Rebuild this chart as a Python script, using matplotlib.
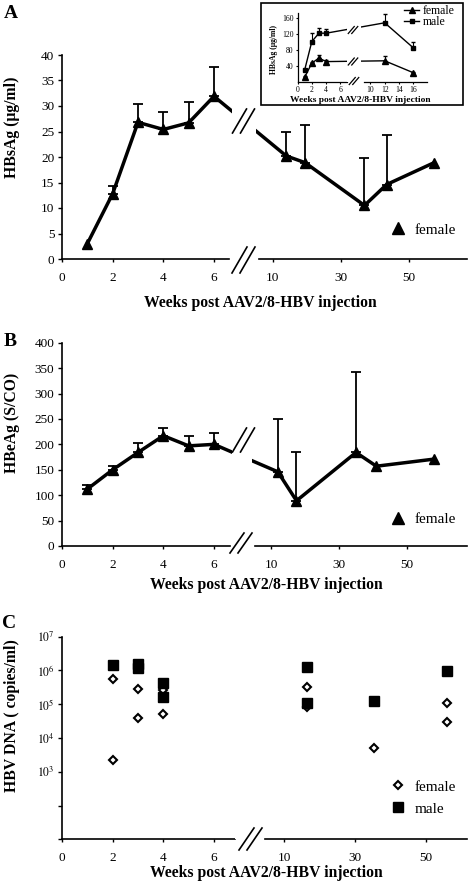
import numpy as np
import matplotlib
matplotlib.use("Agg")
import matplotlib.pyplot as plt
from matplotlib.lines import Line2D
from matplotlib.patches import Rectangle
from matplotlib.ticker import NullLocator

plt.rcParams['font.family'] = ['Liberation Serif', 'DejaVu Serif']
plt.rcParams['mathtext.fontset'] = 'stix'

W, H = 470, 886

# ---- data -------------------------------------------------------------
# A: HBsAg, female mice (mean, upper error)
weeks_a = np.array([1, 2, 3, 4, 5, 6, 14, 19.5, 37, 43.5, 57.5])
hbsag = np.array([3.0, 12.8, 26.8, 25.4, 26.7, 31.9, 20.2, 18.9, 10.5, 14.6, 18.9])
hbsag_err = np.array([0, 1.5, 3.6, 3.4, 4.0, 5.8, 4.8, 7.4, 9.3, 9.8, 0])

# A inset: HBsAg female vs male
weeks_in = np.array([1, 2, 3, 4, 12, 16])
in_female = np.array([12, 47, 60, 51, 53, 23])
in_female_err = np.array([4, 3, 8, 4, 11, 2])
in_male = np.array([30, 101, 122, 122, 148, 85])
in_male_err = np.array([3, 22, 13, 10, 22, 14])

# B: HBeAg, female mice
weeks_b = np.array([1, 2, 3, 4, 5, 6, 12, 17.5, 35, 41, 58])
hbeag = np.array([112, 150, 184, 217, 197, 200, 146, 89, 184, 157, 171])
hbeag_err = np.array([8, 8, 18, 15, 20, 22, 104, 95, 159, 0, 0])

# C: HBV DNA, individual mice
weeks_c_f = np.array([2, 2, 3, 3, 4, 4, 16.5, 16.5, 35.5, 56, 56])
dna_f = np.array([5.5e5, 2.3e3, 2.9e5, 3.8e4, 2.6e5, 5.0e4, 3.2e5, 8.5e4, 5.0e3, 1.1e5, 2.9e4])
weeks_c_m = np.array([2, 3, 3, 4, 4, 16.5, 16.5, 35.5, 56])
dna_m = np.array([1.5e6, 1.6e6, 1.15e6, 4.4e5, 1.6e5, 1.25e6, 1.1e5, 1.25e5, 9.8e5])

xticks_main = [0, 2, 4, 6, 10, 30, 50]
xticks_inset = [0, 2, 4, 6, 10, 12, 14, 16]
xlabel = 'Weeks post AAV2/8-HBV injection'

fig = plt.figure(figsize=(W / 100, H / 100), dpi=100)


def px_axes(x0, y0, x1, y1):
    return fig.add_axes([x0 / W, 1 - y1 / H, (x1 - x0) / W, (y1 - y0) / H])


def broken_x(ax, x0, x1, s_left, gap_l, x10, s_right, axis_l, axis_r, lw=1.2):
    # piecewise linear week -> pixel mapping with a gap between the two parts
    wb = (gap_l - x0) / s_left

    def fwd(w):
        w = np.asarray(w, float)
        return np.where(w <= wb, x0 + s_left * w, x10 + s_right * (w - 10))

    def inv(p):
        p = np.asarray(p, float)
        left = (p - x0) / s_left
        right = np.maximum(10 + (p - x10) / s_right, wb)
        return np.where(p <= gap_l, left, right)

    ax.set_xscale('function', functions=(fwd, inv))
    ax.set_xlim(0, 10 + (x1 - x10) / s_right)
    ax.xaxis.set_minor_locator(NullLocator())
    for s in ('top', 'right', 'bottom'):
        ax.spines[s].set_visible(False)
    ax.spines['left'].set_linewidth(lw)
    fl = (axis_l - x0) / (x1 - x0)
    fr = (axis_r - x0) / (x1 - x0)
    ax.plot([0, fl], [0, 0], color='k', lw=lw, transform=ax.transAxes, clip_on=False)
    ax.plot([fr, 1], [0, 0], color='k', lw=lw, transform=ax.transAxes, clip_on=False)
    fa = (gap_l - x0) / (x1 - x0)
    fb = (axis_r - 3 - x0) / (x1 - x0)
    ax.add_patch(Rectangle((fa, 0.003), fb - fa, 1, transform=ax.transAxes,
                           fc='white', ec='none', zorder=2.5, clip_on=False))


def slashes(cx, cy, dx, dy, sep, lw=1.2):
    for off in (-sep / 2, sep / 2):
        xs = [(cx + off - dx / 2) / W, (cx + off + dx / 2) / W]
        ys = [1 - (cy + dy / 2) / H, 1 - (cy - dy / 2) / H]
        fig.add_artist(Line2D(xs, ys, color='k', lw=lw, transform=fig.transFigure))


def style_ticks(ax, size=9.5):
    ax.tick_params(axis='y', direction='out', length=3, width=1, labelsize=size, pad=2.5)
    ax.tick_params(axis='x', direction='out', length=2, width=1, labelsize=size, pad=7.5)


def mean_err(ax, x, y, err, marker, ms, lw, cap, elw):
    ax.plot(x, y, '-', marker=marker, color='k', lw=lw, ms=ms, zorder=2)
    has = err > 0
    ax.errorbar(x[has], y[has], yerr=[np.zeros(has.sum()), err[has]], fmt='none',
                ecolor='k', elinewidth=elw, capsize=cap, capthick=elw, zorder=1.5)


label_kw = dict(fontsize=11.3, fontweight='bold', ha='center', va='center')
letter_kw = dict(fontsize=14, fontweight='bold', ha='center', va='center')

# ---- panel A ----------------------------------------------------------
ax_a = px_axes(62, 55, 467, 259)
broken_x(ax_a, 62, 467, 25.33, 232, 272.7, 3.4, 229, 259)
mean_err(ax_a, weeks_a, hbsag, hbsag_err, '^', 7.5, 2.5, 3.5, 1.3)
ax_a.set_ylim(0, 40)
ax_a.set_yticks(range(0, 41, 5))
ax_a.set_xticks(xticks_main, labels=[str(t) for t in xticks_main])
style_ticks(ax_a)
ax_a.legend(handles=[Line2D([], [], ls='none', marker='^', color='k', ms=8)],
            labels=['female'], loc='center left', bbox_to_anchor=(390 / W, 1 - 230 / H),
            bbox_transform=fig.transFigure, frameon=False, fontsize=11,
            handlelength=1.0, handletextpad=0.6, borderpad=0, borderaxespad=0)
slashes(243.5, 121, 14, 24, 8)
slashes(243.5, 260, 15, 26, 8)
fig.text(11 / W, 1 - 13 / H, 'A', **letter_kw)
fig.text(12 / W, 1 - 127 / H, 'HBsAg (μg/ml)', rotation=90, **label_kw)
fig.text(260 / W, 1 - 303 / H, xlabel, **label_kw)

# inset
fig.add_artist(Rectangle((261 / W, 1 - 105 / H), (463 - 261) / W, (105 - 3) / H,
                         fill=False, ec='k', lw=1.2, transform=fig.transFigure))
ax_in = px_axes(297.5, 13, 427, 82)
broken_x(ax_in, 297.5, 427, 7.15, 347, 370.3, 7.2, 347, 364, lw=0.9)
ax_in.plot(weeks_in, in_female, '-^', color='k', lw=1.0, ms=4, label='female')
ax_in.plot(weeks_in, in_male, '-s', color='k', lw=1.0, ms=3.5, label='male')
ax_in.errorbar(weeks_in, in_female, yerr=[np.zeros(6), in_female_err], fmt='none',
               ecolor='k', elinewidth=0.8, capsize=1.2)
ax_in.errorbar(weeks_in, in_male, yerr=[np.zeros(6), in_male_err], fmt='none',
               ecolor='k', elinewidth=0.8, capsize=1.2)
ax_in.set_ylim(0, 172.5)
ax_in.set_yticks([40, 80, 120, 160])
ax_in.set_xticks(xticks_inset, labels=[str(t) for t in xticks_inset])
ax_in.tick_params(axis='both', length=1.5, width=0.8, labelsize=5.5, pad=1.5)
ax_in.legend(loc='upper left', bbox_to_anchor=(404 / W, 1 - 5 / H),
             bbox_transform=fig.transFigure, frameon=False, fontsize=8.5,
             handlelength=1.3, handletextpad=0.3, labelspacing=-0.1,
             borderpad=0, borderaxespad=0)
slashes(353, 30, 6, 7, 3.5, lw=0.9)
slashes(353, 61.5, 6, 7, 3.5, lw=0.9)
slashes(354, 81, 6, 7, 3.5, lw=0.9)
fig.text(360 / W, 1 - 100 / H, xlabel, fontsize=6.8, fontweight='bold', ha='center', va='center')
fig.text(274 / W, 1 - 50 / H, 'HBsAg (μg/ml)', rotation=90, fontsize=5.5,
         fontweight='bold', ha='center', va='center')

# ---- panel B ----------------------------------------------------------
ax_b = px_axes(62, 342.7, 467, 546)
broken_x(ax_b, 62, 467, 25.33, 232, 271, 3.4, 230, 255)
mean_err(ax_b, weeks_b, hbeag, hbeag_err, '^', 7.5, 2.5, 3.5, 1.3)
ax_b.set_ylim(0, 400)
ax_b.set_yticks(range(0, 401, 50))
ax_b.set_xticks(xticks_main, labels=[str(t) for t in xticks_main])
style_ticks(ax_b)
ax_b.legend(handles=[Line2D([], [], ls='none', marker='^', color='k', ms=8)],
            labels=['female'], loc='center left', bbox_to_anchor=(390 / W, 1 - 519 / H),
            bbox_transform=fig.transFigure, frameon=False, fontsize=11,
            handlelength=1.0, handletextpad=0.6, borderpad=0, borderaxespad=0)
slashes(243.5, 440, 14, 24, 8)
slashes(241, 543, 14, 20, 8)
fig.text(10 / W, 1 - 342 / H, 'B', **letter_kw)
fig.text(12 / W, 1 - 423 / H, 'HBeAg (S/CO)', rotation=90, **label_kw)
fig.text(266.5 / W, 1 - 585 / H, xlabel, **label_kw)

# ---- panel C ----------------------------------------------------------
ax_c = px_axes(62, 636.7, 467, 839.3)
broken_x(ax_c, 62, 467, 25.33, 235, 284, 3.54, 235, 265)
ax_c.set_yscale('log')
ax_c.plot(weeks_c_f, dna_f, ls='none', marker='D', ms=4.5, mfc='white', mec='k',
          mew=1.5, label='female', zorder=3)
ax_c.plot(weeks_c_m, dna_m, ls='none', marker='s', ms=6.5, color='k', label='male', zorder=3)
ax_c.set_ylim(10, 1e7)
ax_c.set_yticks([10 ** k for k in range(1, 8)],
                labels=['', ''] + [r'$10^{%d}$' % k for k in range(3, 8)])
ax_c.yaxis.set_minor_locator(NullLocator())
ax_c.set_xticks(xticks_main, labels=[str(t) for t in xticks_main])
style_ticks(ax_c)
ax_c.tick_params(axis='y', labelsize=8.5)
ax_c.legend(loc='upper left', bbox_to_anchor=(390 / W, 1 - 780 / H),
            bbox_transform=fig.transFigure, frameon=False, fontsize=11,
            handlelength=1.0, handletextpad=0.6, labelspacing=0.55,
            borderpad=0, borderaxespad=0)
slashes(250.5, 839, 15, 22, 8)
fig.text(9 / W, 1 - 624 / H, 'C', **letter_kw)
fig.text(12 / W, 1 - 716 / H, 'HBV DNA ( copies/ml)', rotation=90, **label_kw)
fig.text(266.5 / W, 1 - 873 / H, xlabel, **label_kw)

fig.savefig('out.png', dpi=100)
